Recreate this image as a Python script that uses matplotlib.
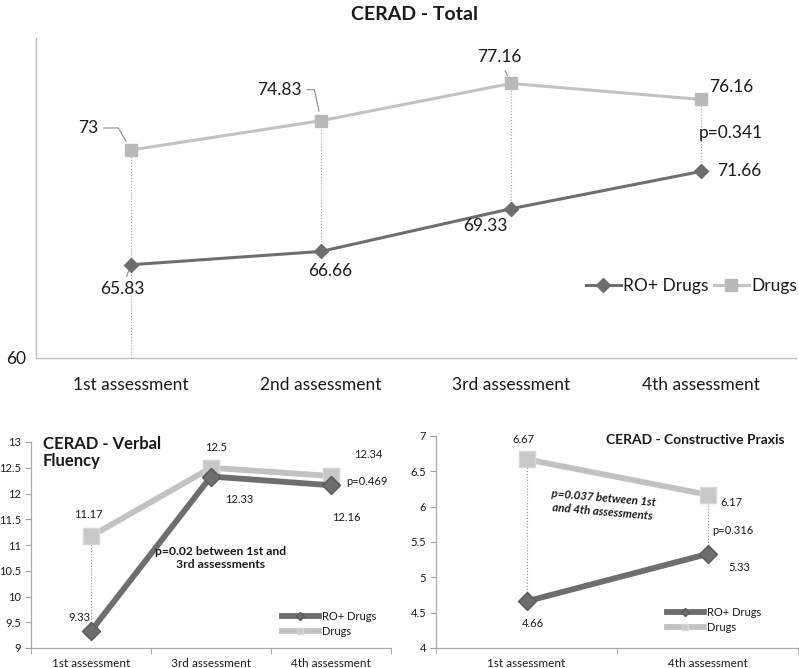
import matplotlib
matplotlib.use("Agg")
import matplotlib.pyplot as plt

plt.rcParams['font.family'] = ['Lato', 'DejaVu Sans']

# ---------------- data ----------------
total_cats = ["1st assessment", "2nd assessment", "3rd assessment", "4th assessment"]
total_ro = [65.83, 66.66, 69.33, 71.66]
total_drugs = [73, 74.83, 77.16, 76.16]
total_p = "p=0.341"

vf_cats = ["1st assessment", "3rd assessment", "4th assessment"]
vf_ro = [9.33, 12.33, 12.16]
vf_drugs = [11.17, 12.5, 12.34]
vf_p = "p=0.469"
vf_note = "p=0.02 between 1st and\n3rd assessments"

cp_cats = ["1st assessment", "4th assessment"]
cp_ro = [4.66, 5.33]
cp_drugs = [6.67, 6.17]
cp_p = "p=0.316"
cp_note = "p=0.037 between 1st\nand 4th assessments"

series_names = ["RO+ Drugs", "Drugs"]

DARK = "#6e6e6e"
LIGHT = "#c2c2c4"
TXT = "#1a1a1a"
AX = "#bfbfbf"

fig = plt.figure(figsize=(7.99, 6.68), dpi=100)

# ---------------- top chart ----------------
ax = fig.add_axes([36/799, 1-358/668, 760/799, 320/668])
x = list(range(len(total_cats)))
ax.vlines(x[0], 60, total_drugs[0], colors="#a0a0a0", linestyles=":", lw=0.8, zorder=1)
ax.vlines(x[1:], total_ro[1:], total_drugs[1:], colors="#a0a0a0", linestyles=":", lw=0.8, zorder=1)
ax.plot(x, total_ro, color=DARK, lw=2.2, marker="D", ms=7, mfc=DARK, mec=DARK, label=series_names[0], zorder=3)
ax.plot(x, total_drugs, color=LIGHT, lw=2.2, marker="s", ms=9, mfc="#b9b9bd", mec="#b9b9bd", label=series_names[1], zorder=3)
ax.set_xlim(-0.5, 3.5)
ax.set_ylim(60, 80)
ax.set_yticks([60])
ax.set_xticks(x)
ax.set_xticklabels(total_cats, fontsize=12.5, color=TXT)
ax.tick_params(axis="x", length=0, pad=14)
ax.tick_params(axis="y", length=0, pad=7, labelsize=12.5, labelcolor=TXT)
for s in ["top", "right"]:
    ax.spines[s].set_visible(False)
for s in ["left", "bottom"]:
    ax.spines[s].set_color(AX)
    ax.spines[s].set_linewidth(1.0)

lab_kw = dict(textcoords="offset pixels", fontsize=12.5, color=TXT, ha="center", va="center")
lead = dict(arrowstyle="-", color="#8a8a8a", lw=0.8, shrinkA=2, shrinkB=7)
ax.annotate(f"{total_drugs[0]:g}", xy=(0, total_drugs[0]), xytext=(-43, 22),
            arrowprops=dict(lead, connectionstyle="angle,angleA=0,angleB=120,rad=0"), **lab_kw)
ax.annotate(f"{total_drugs[1]:g}", xy=(1, total_drugs[1]), xytext=(-42, 31),
            arrowprops=dict(lead, connectionstyle="angle,angleA=0,angleB=102,rad=0"), **lab_kw)
ax.annotate(f"{total_drugs[2]:g}", xy=(2, total_drugs[2]), xytext=(-12, 26),
            arrowprops=dict(lead, shrinkB=6), **lab_kw)
ax.annotate(f"{total_drugs[3]:g}", xy=(3, total_drugs[3]), xytext=(30, 12), **lab_kw)
ax.annotate(total_p, xy=(3, total_drugs[3]), xytext=(30, -34), **lab_kw)
ax.annotate(f"{total_ro[3]:g}", xy=(3, total_ro[3]), xytext=(38, 0), **lab_kw)
ax.annotate(f"{total_ro[2]:g}", xy=(2, total_ro[2]), xytext=(-26, -17), **lab_kw)
ax.annotate(f"{total_ro[1]:g}", xy=(1, total_ro[1]), xytext=(9, -20), **lab_kw)
ax.annotate(f"{total_ro[0]:g}", xy=(0, total_ro[0]), xytext=(-9, -24),
            arrowprops=dict(lead, shrinkA=1, shrinkB=4), **lab_kw)

ax.legend(loc="center right", bbox_to_anchor=(797/799, 1-286/668), bbox_transform=fig.transFigure,
          ncol=2, frameon=False, fontsize=12.5, handlelength=2.0, handletextpad=0.15,
          columnspacing=0.3, labelcolor=TXT, borderaxespad=0, borderpad=0)

fig.text(415/799, 1-15/668, "CERAD - Total", ha="center", va="center", fontsize=14,
         fontweight="bold", color=TXT)

# ---------------- helper for small charts ----------------
def small_axes(rect, cats, ylim, yticks):
    a = fig.add_axes(rect)
    a.set_xlim(-0.5, len(cats) - 0.5)
    a.set_ylim(*ylim)
    a.set_yticks(yticks)
    a.set_yticklabels([f"{t:g}" for t in yticks])
    a.set_xticks(range(len(cats)))
    a.set_xticklabels(cats)
    a.set_xticks([i - 0.5 for i in range(len(cats) + 1)], minor=True)
    a.tick_params(axis="x", which="major", length=0, pad=7, labelsize=8.5, labelcolor=TXT)
    a.tick_params(axis="x", which="minor", length=4, direction="out", color="#a0a0a0")
    a.tick_params(axis="y", length=4, direction="out", color="#a0a0a0", pad=3,
                  labelsize=8, labelcolor=TXT)
    for s in ["top", "right"]:
        a.spines[s].set_visible(False)
    for s in ["left", "bottom"]:
        a.spines[s].set_color("#a8a8a8")
        a.spines[s].set_linewidth(0.9)
    return a

small_kw = dict(textcoords="offset pixels", fontsize=8, color=TXT, ha="center", va="center")

# ---------------- verbal fluency ----------------
a1 = small_axes([31/799, 1-648/668, 360/799, 206/668], vf_cats, (9, 13),
                [9, 9.5, 10, 10.5, 11, 11.5, 12, 12.5, 13])
xv = list(range(len(vf_cats)))
a1.vlines(xv, vf_ro, vf_drugs, colors="#909090", linestyles=":", lw=0.8, zorder=1)
a1.plot(xv, vf_ro, color=DARK, lw=4.2, marker="D", ms=9, mfc=DARK, mec="#5a5a5a",
        label=series_names[0], zorder=4)
a1.plot(xv, vf_drugs, color=LIGHT, lw=4.2, marker="s", ms=11, mfc="#c8c8c8", mec="#d6d6d6",
        label=series_names[1], zorder=3)
a1.annotate(f"{vf_drugs[1]:g}", xy=(1, vf_drugs[1]), xytext=(5, 20), **small_kw)
a1.annotate(f"{vf_drugs[2]:g}", xy=(2, vf_drugs[2]), xytext=(37, 21), **small_kw)
a1.annotate(vf_p, xy=(2, vf_drugs[2]), xytext=(36, -6), **small_kw)
a1.annotate(f"{vf_ro[1]:g}", xy=(1, vf_ro[1]), xytext=(28, -23), **small_kw)
a1.annotate(f"{vf_ro[2]:g}", xy=(2, vf_ro[2]), xytext=(15, -32), **small_kw)
a1.annotate(f"{vf_drugs[0]:g}", xy=(0, vf_drugs[0]), xytext=(-3, 22), **small_kw)
a1.annotate(f"{vf_ro[0]:g}", xy=(0, vf_ro[0]), xytext=(-12, 14), **small_kw)
fig.text(221/799, 1-558/668, vf_note, ha="center", va="center", fontsize=8.7,
         fontweight="bold", color=TXT, linespacing=1.3)
fig.text(43/799, 1-436/668, "CERAD - Verbal\nFluency", ha="left", va="top", fontsize=12,
         fontweight="bold", color=TXT, linespacing=1.1)
a1.legend(loc="center", bbox_to_anchor=(329/799, 1-624/668), bbox_transform=fig.transFigure,
          frameon=False, fontsize=8, handlelength=3.3, handletextpad=0.25, labelspacing=0.35,
          labelcolor=TXT, markerscale=0.45)

# ---------------- constructive praxis ----------------
a2 = small_axes([436/799, 1-648/668, 362/799, 212/668], cp_cats, (4, 7),
                [4, 4.5, 5, 5.5, 6, 6.5, 7])
xc = list(range(len(cp_cats)))
a2.vlines(xc, cp_ro, cp_drugs, colors="#909090", linestyles=":", lw=0.8, zorder=1)
a2.plot(xc, cp_ro, color=DARK, lw=4.2, marker="D", ms=9, mfc=DARK, mec="#5a5a5a",
        label=series_names[0], zorder=4)
a2.plot(xc, cp_drugs, color=LIGHT, lw=4.2, marker="s", ms=11, mfc="#c8c8c8", mec="#d6d6d6",
        label=series_names[1], zorder=3)
a2.annotate(f"{cp_drugs[0]:g}", xy=(0, cp_drugs[0]), xytext=(-3, 20), **small_kw)
a2.annotate(f"{cp_drugs[1]:g}", xy=(1, cp_drugs[1]), xytext=(24, -8), **small_kw)
a2.annotate(cp_p, xy=(1, cp_drugs[1]), xytext=(25, -36), **small_kw)
a2.annotate(f"{cp_ro[1]:g}", xy=(1, cp_ro[1]), xytext=(32, -13), **small_kw)
a2.annotate(f"{cp_ro[0]:g}", xy=(0, cp_ro[0]), xytext=(6, -22), **small_kw)
fig.text(603/799, 1-505/668, cp_note, ha="center", va="center", fontsize=8.3,
         fontweight="bold", fontstyle="italic", color=TXT, rotation=-5, linespacing=1.3,
         rotation_mode="anchor")
fig.text(695/799, 1-440/668, "CERAD - Constructive Praxis", ha="center", va="center",
         fontsize=10, fontweight="bold", color=TXT)
a2.legend(loc="center", bbox_to_anchor=(714/799, 1-620/668), bbox_transform=fig.transFigure,
          frameon=False, fontsize=8, handlelength=3.3, handletextpad=0.25, labelspacing=0.35,
          labelcolor=TXT, markerscale=0.45)

fig.savefig("out.png", dpi=100)
